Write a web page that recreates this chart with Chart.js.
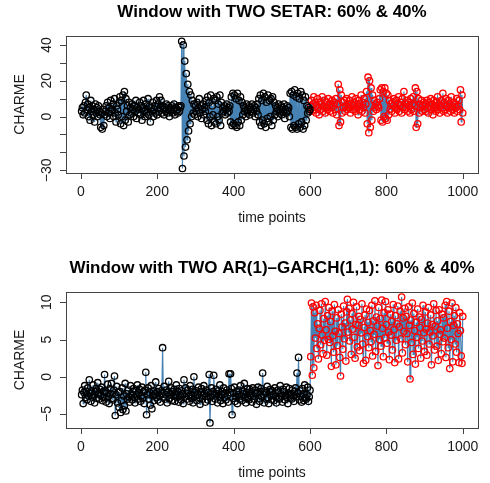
<!DOCTYPE html>
<html>
<head>
<meta charset="utf-8">
<script src="https://cdn.jsdelivr.net/npm/chart.js@4.4.1/dist/chart.umd.min.js"></script>
<style>
  body { margin: 0; background: #fff; }
  canvas { display: block; }
</style>
</head>
<body>
<canvas id="setar" width="490" height="241"></canvas>
<canvas id="garch" width="490" height="242"></canvas>
<script>
// one value every STEP time points; first regime starts at t=2, second at t=602
const STEP = 2;
const xTicks = [0, 200, 400, 600, 800, 1000];

// SETAR window, first 60% (black)
const setarFirst = [
  3, 5, 1, 6, 2, 8, 12, 4, 7, 0, 5, -2, 9, 3, 6, 1, 4, -3, 7, 2, 5, 0, 6, 3, 1,
  -6, 2, -7, 4, -5, 1, 3, 6, 0, 8, 2, 5, -1, 9, 3, 4, 7, 0, 10, 2, -3, 6, 4, 1, 8,
  11, -4, 9, 0, 12, -5, 14, -2, 10, 3, 6, -3, 8, 1, 5, 2, 7, 4, 0, 6, 3, 9, -1, 5, 2,
  4, 8, 1, 6, -2, 5, 9, 3, 0, 7, 2, 4, 10, 1, 6, -3, 5, 3, 8, 0, 4, 6, 2, 9, 1,
  7, 3, 11, 5, 9, 2, 6, 4, 1, 5, 3, 7, 2, 6, 4, 0, 5, 3, 6, 2, 4, 7, 1, 5, 3,
  4, 2, 6, 3, 5, 6, 42, -29, 40, -22, 31, -17, 24, -13, 18, -8, 14, -4, 12, 0, 9, 2, 7, 1, 6,
  3, 8, 0, 5, 10, 2, 6, -1, 4, 7, 1, 5, 3, 9, -2, 11, -4, 8, 0, 12, -5, 6, 1, 10, -3,
  9, -4, 11, 0, 7, -2, 12, -5, 8, 2, 5, 3, 6, 1, 4, 7, 2, 5, 3, 6, -3, 11, -5, 13, -4,
  12, -5, 10, -6, 13, -3, 9, -5, 11, -2, 8, 1, 6, 3, 5, 0, 7, 2, 4, 6, 1, 5, 3, 7, 2,
  4, 6, 0, 5, 3, 7, 1, 10, -3, 12, -5, 9, -2, 13, -4, 11, -6, 8, -1, 12, -3, 9, 0, 10, -5,
  11, -2, 8, 1, 6, 3, 5, 0, 7, 2, 4, 6, 1, 5, 3, 7, -1, 4, 2, 6, 3, 5, 0, 13, -6,
  14, -7, 12, -5, 15, -6, 11, -7, 13, -4, 10, -6, 14, -3, 12, -7, 9, -5, 11, -2, 6, 2, 5, 3, 4
];
// SETAR window, last 40% (red)
const setarSecond = [
  6, 9, 3, 7, 11, 4, 8, 2, 6, 10, 5, 1, 8, 4, 7, 11, 3, 6, 9, 2, 5, 8, 4, 10, 6,
  3, 7, 5, 9, 2, 6, 8, 4, 10, 1, 7, 18, -5, 15, -3, 12, 2, 8, 5, 9, 3, 6, 10, 4, 7,
  5, 9, 2, 7, 11, 4, 6, 8, 3, 10, 5, 7, 1, 9, 4, 6, 12, 3, 8, 5, 10, 2, 7, 14, -4,
  22, -9, 20, -6, 16, -2, 12, 3, 9, 5, 7, 4, 8, 6, 5, 10, 15, -2, 16, -3, 14, 0, 16, -1, 13,
  -2, 12, 1, 9, 4, 7, 3, 8, 6, 10, 2, 5, 9, 4, 7, 11, 3, 6, 8, 2, 10, 5, 14, 4, 7,
  5, 9, 3, 8, 6, 2, 10, 4, 7, 11, 3, 6, 16, -6, 14, -4, 10, 2, 7, 5, 9, 3, 6, 8, 4,
  7, 3, 9, 5, 2, 8, 6, 10, 4, 7, 1, 9, 5, 6, 3, 8, 11, 4, 7, 2, 6, 9, 5, 13, 3,
  8, 4, 10, 6, 2, 9, 5, 7, 3, 11, 6, 4, 8, 2, 7, 5, 10, 3, 6, 9, 4, 15, -3, 12, 2
];

// AR(1)-GARCH(1,1) window, first 60% (black)
const garchFirst = [
  -2.4, -1.8, -3.6, -2.1, -1.2, -2.8, -2.0, -3.1, -1.5, -2.6, -0.4, -2.2, -3.3, -1.9, -2.7, -1.1, -2.4, -3.5, -2.0, -1.6, -2.9, -0.8, -2.3, -3.0, -1.7,
  -2.5, -1.4, -3.2, -2.0, -2.8, 0.3, -1.9, -3.4, -2.2, -1.0, -2.7, -3.6, -1.6, -2.3, -0.9, -2.9, -3.1, -1.8, 0.1, -5.2, -2.4, -1.3, -3.5, -2.1, -4.1,
  -2.0, -4.8, -3.2, -1.5, -4.4, -2.6, -3.9, -0.9, -4.6, -2.3, -3.0, -1.8, -2.7, -3.4, -1.2, -2.5, -3.1, -2.0, -1.6, -2.8, -3.5, -1.9, -2.4, -1.1, -3.0,
  -2.2, -1.7, -3.3, -2.6, -1.4, -2.9, -2.0, -3.6, -1.8, 0.6, -5.1, -2.4, -1.5, -3.0, -2.1, -3.8, -1.2, -4.3, -2.5, -1.9, -3.2, -2.3, -0.7, -2.8, -2.0,
  -3.1, -1.6, -2.5, -3.4, -1.9, -2.2, 3.9, -2.7, -1.3, -3.0, -2.4, -1.8, -3.5, -2.1, -0.6, -2.9, -2.3, -1.5, -3.2, -2.0, -2.6, -1.7, -3.3, -2.4, -1.1,
  -2.8, -2.0, -3.4, -1.6, -2.5, -3.1, -1.9, -2.3, -3.6, -0.4, -2.7, -1.5, -2.2, -3.0, -1.8, -2.6, -3.3, -1.2, -2.4, -2.9, -1.7, -3.5, 0.0, -2.1, -2.6,
  -1.9, -3.2, -2.4, -1.4, -2.8, -3.7, -2.0, -1.6, -3.0, -2.5, -1.2, -2.2, -3.4, -1.8, -2.6, -3.1, -2.1, 0.3, -6.2, -2.7, -1.5, -3.3, -2.0, 0.2, -2.4,
  -3.0, -1.7, -2.3, -3.5, -1.9, -2.6, -1.1, -3.2, -2.4, -2.0, -3.6, -1.5, -2.8, -2.2, -3.1, -1.8, -2.5, -3.4, 0.4, -2.1, 0.4, -1.6, -5.1, -2.9, -2.2,
  -1.4, -3.3, -2.7, -2.0, -3.6, -1.8, -2.4, -3.0, -1.2, -2.6, -3.2, -1.9, -2.3, -0.9, -2.8, -3.5, -2.1, -1.6, -2.9, -3.1, -1.7, -2.5, -2.0, -3.4, -1.5,
  -2.6, -3.0, -1.8, -2.3, -3.7, -2.1, -1.4, -2.9, -3.3, -2.0, -1.6, -2.7, 0.5, -2.4, -3.5, -1.9, -2.2, -3.0, -1.3, -2.8, -3.6, -2.0, -1.7, -2.5, -3.1,
  -1.9, -2.4, -3.2, -1.5, -2.7, -3.5, -2.1, -1.8, -2.9, -3.0, -1.2, -2.3, -2.6, -3.4, -1.7, -2.0, -3.1, -2.5, -1.4, -2.8, -3.6, -2.2, -1.6, -2.9, -2.4,
  -3.0, -1.8, -2.5, -3.3, -2.0, -1.5, -2.7, 0.5, -2.2, 2.6, -3.1, -1.9, -2.6, -3.4, -1.6, -2.3, -3.2, -1.1, -2.8, -3.0, -2.4, -1.4, -3.3, -2.7, -1.8
];
// AR(1)-GARCH(1,1) window, last 40% (red)
const garchSecond = [
  2.7, 9.9, 0.2, 9.4, 1.2, 8.6, 5.2, 9.6, 3.8, 7.1, 2.4, 6.5, 8.9, 4.3, 9.8, 5.6, 3.1, 7.8, 4.9, 10.1, 6.3, 2.9, 8.2, 5.0, 9.3,
  4.6, 7.4, 1.4, 8.8, 5.5, 3.3, 9.7, 6.1, 1.6, 7.9, 4.2, 9.0, 5.8, 2.6, 0.1, 8.4, 6.7, 3.7, 9.5, 5.1, 7.2, 2.1, 8.7, 10.4, 6.0,
  9.2, 4.8, 7.6, 3.0, 8.5, 6.4, 10.0, 5.3, 2.5, 7.0, 9.4, 4.0, 6.9, 8.1, 3.5, 7.7, 5.9, 9.8, 4.4, 1.8, 6.6, 8.3, 2.2, 9.1, 5.4,
  7.3, 3.9, 8.9, 6.2, 4.7, 9.6, 2.8, 7.5, 5.7, 10.2, 3.4, 8.0, 6.8, 1.5, 9.3, 5.0, 7.8, 4.1, 10.3, 6.5, 2.7, 8.6, 5.2, 10.1, 7.0,
  4.5, 9.0, 6.0, 2.3, 8.4, 5.6, 7.4, 3.6, 9.7, 6.3, 1.9, 8.2, 4.9, 7.1, 9.5, 2.4, 6.7, 8.8, 5.1, 10.7, 3.2, 7.9, 6.1, 9.2, 4.3,
  8.1, 5.8, 2.0, 9.4, 6.9, -0.3, 7.6, 4.6, 9.9, 3.0, 8.5, 6.2, 1.7, 7.3, 5.3, 9.1, 3.8, 8.0, 6.6, 2.5, 7.7, 4.8, 9.6, 5.9, 3.4,
  8.7, 6.4, 2.9, 7.2, 9.3, 4.4, 6.0, 8.3, 1.6, 7.0, 5.5, 9.8, 3.6, 6.8, 8.9, 4.1, 7.5, 2.2, 9.0, 5.7, 6.3, 3.1, 8.4, 4.7, 7.9,
  5.2, 9.6, 2.6, 10.1, 6.5, 3.9, 8.8, 1.1, 7.4, 5.0, 9.9, 2.0, 6.9, 8.2, 4.4, 9.3, 3.3, 7.1, 5.8, 1.9, 8.6, 6.2, 2.8, 1.8, 8.1
];

const setarTicks = [-30, -20, -10, 0, 10, 20, 30, 40];
const setarLabels = [-30, 0, 20, 40];
const garchTicks = [-5, 0, 5, 10];
const garchLabels = [-5, 0, 5, 10];

const FONT = '"Liberation Sans", Arial, Helvetica, sans-serif';

// base-R style box, axes and titles
const rAxes = {
  id: 'rAxes',
  afterDraw(chart, args, opts) {
    const { ctx, chartArea: a, scales: { x, y } } = chart;
    ctx.save();
    ctx.strokeStyle = '#444';
    ctx.lineWidth = 1;
    ctx.strokeRect(a.left + 0.5, a.top + 0.5, a.right - a.left, a.bottom - a.top);

    ctx.fillStyle = '#1a1a1a';
    ctx.font = '14px ' + FONT;
    ctx.textAlign = 'center';
    ctx.textBaseline = 'middle';

    ctx.beginPath();
    xTicks.forEach(t => {
      const px = Math.round(x.getPixelForValue(t)) + 0.5;
      ctx.moveTo(px, a.bottom);
      ctx.lineTo(px, a.bottom + 6);
    });
    opts.yTicks.forEach(v => {
      const py = Math.round(y.getPixelForValue(v)) + 0.5;
      ctx.moveTo(a.left, py);
      ctx.lineTo(a.left - 6, py);
    });
    ctx.stroke();

    xTicks.forEach(t => ctx.fillText(String(t), x.getPixelForValue(t), a.bottom + 19));
    ctx.fillText('time points', (a.left + a.right) / 2, a.bottom + 45);

    opts.yLabels.forEach(v => {
      ctx.save();
      ctx.translate(a.left - 19, y.getPixelForValue(v));
      ctx.rotate(-Math.PI / 2);
      ctx.fillText(String(v).replace('-', '\u2212'), 0, 0);
      ctx.restore();
    });
    ctx.save();
    ctx.translate(20, (a.top + a.bottom) / 2);
    ctx.rotate(-Math.PI / 2);
    ctx.fillText('CHARME', 0, 0);
    ctx.restore();

    ctx.font = 'bold 17px ' + FONT;
    ctx.fillStyle = '#000';
    ctx.fillText(opts.title, (a.left + a.right) / 2, a.top - 24);
    ctx.restore();
  }
};

function drawPanel(id, first, second, yMin, yMax, yTicks, yLabels, title, padTop, padBottom) {
  const firstPts = first.map((v, i) => ({ x: 2 + i * STEP, y: v }));
  const secondPts = second.map((v, i) => ({ x: 602 + i * STEP, y: v }));
  const circles = color => ({
    pointRadius: 3.2,
    pointBorderWidth: 1.3,
    pointBorderColor: color,
    pointBackgroundColor: 'rgba(0,0,0,0)',
    showLine: false,
    order: 1
  });
  new Chart(document.getElementById(id), {
    type: 'scatter',
    data: {
      datasets: [
        Object.assign({ data: firstPts }, circles('#000')),
        Object.assign({ data: secondPts }, circles('#ff0000')),
        {
          data: firstPts.concat(secondPts),
          showLine: true,
          borderColor: '#4682b4',
          borderWidth: 1.2,
          pointRadius: 0,
          order: 3
        }
      ]
    },
    options: {
      responsive: false,
      animation: false,
      events: [],
      layout: { padding: { left: 66, right: 12, top: padTop, bottom: padBottom } },
      scales: {
        x: { type: 'linear', min: -39, max: 1040, display: false },
        y: { type: 'linear', min: yMin, max: yMax, display: false }
      },
      plugins: {
        legend: { display: false },
        tooltip: { enabled: false },
        rAxes: { title: title, yTicks: yTicks, yLabels: yLabels }
      }
    },
    plugins: [rAxes]
  });
}

drawPanel('setar', setarFirst, setarSecond, -31.5, 45.0, setarTicks, setarLabels,
  'Window with TWO SETAR: 60% & 40%', 36, 68);
drawPanel('garch', garchFirst, garchSecond, -6.88, 11.38, garchTicks, garchLabels,
  'Window with TWO AR(1)\u2013GARCH(1,1): 60% & 40%', 51, 55);
</script>
</body>
</html>
